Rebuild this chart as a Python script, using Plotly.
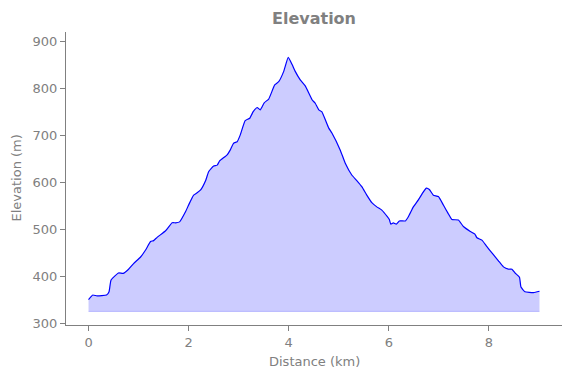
import plotly.graph_objects as go

distance_km = [0.0, 0.086, 0.17, 0.36, 0.41, 0.45, 0.60, 0.69, 0.80, 0.90, 1.04, 1.14, 1.24, 1.30, 1.37,
               1.54, 1.67, 1.74, 1.82, 1.94, 2.00, 2.10, 2.17, 2.24, 2.34, 2.40, 2.50, 2.57, 2.62, 2.77,
               2.83, 2.90, 2.97, 3.03, 3.13, 3.22, 3.29, 3.37, 3.43, 3.51, 3.60, 3.72, 3.80, 3.90, 3.99,
               4.07, 4.13, 4.23, 4.33, 4.47, 4.53, 4.60, 4.66, 4.80, 4.86, 5.03, 5.13, 5.26, 5.36, 5.46,
               5.56, 5.66, 5.76, 5.86, 5.97, 6.01, 6.04, 6.09, 6.15, 6.21, 6.33, 6.39, 6.49, 6.59, 6.69,
               6.75, 6.81, 6.89, 6.99, 7.09, 7.19, 7.26, 7.39, 7.49, 7.62, 7.72, 7.76, 7.86, 7.96, 8.06,
               8.19, 8.29, 8.39, 8.46, 8.52, 8.61, 8.64, 8.72, 8.89, 9.01]
elevation_m = [350, 360, 358, 360, 367, 392, 407, 406, 415, 427, 441, 456, 474, 476, 483,
               497, 514, 514, 516, 538, 552, 573, 578, 584, 604, 623, 635, 637, 646, 659,
               669, 684, 687, 701, 732, 737, 751, 760, 755, 770, 778, 808, 815, 837, 867,
               851, 837, 819, 806, 776, 769, 755, 751, 716, 706, 669, 641, 616, 604, 591,
               573, 557, 548, 541, 527, 521, 511, 514, 511, 518, 518, 527, 548, 563, 580,
               588, 585, 573, 570, 552, 533, 521, 520, 506, 496, 490, 482, 477, 463, 450,
               433, 420, 415, 415, 407, 398, 377, 367, 365, 368]
fill_base_m = 325

x_tick_vals = [0, 2, 4, 6, 8]
y_tick_vals = [300, 400, 500, 600, 700, 800, 900]

grey = "#808080"
fig = go.Figure()
fig.add_trace(go.Scatter(
    x=distance_km, y=[fill_base_m] * len(distance_km), mode="lines",
    line=dict(color="rgba(0,0,255,0.2)", width=1), hoverinfo="skip", showlegend=False))
fig.add_trace(go.Scatter(
    x=distance_km, y=elevation_m, mode="lines", fill="tonexty",
    fillcolor="rgba(0,0,255,0.2)", line=dict(color="blue", width=1.2, shape="spline", smoothing=0.4),
    showlegend=False))

axis_common = dict(showgrid=False, zeroline=False, showline=True, linecolor=grey, linewidth=1,
                   ticks="outside", ticklen=5, tickcolor=grey, tickfont=dict(color=grey, size=13),
                   mirror=False, automargin=False)
fig.update_layout(
    width=563, height=370,
    margin=dict(l=58, r=9, t=24, b=53),
    paper_bgcolor="white", plot_bgcolor="white",
    font=dict(family="DejaVu Sans", color=grey),
    title=dict(text="<b>Elevation</b>", x=0.5, xref="paper", xanchor="center", y=1 - 10 / 370,
               yref="container", yanchor="middle", font=dict(size=16, color=grey), automargin=False),
    xaxis=dict(range=[-0.45, 9.46], tickvals=x_tick_vals, **axis_common),
    yaxis=dict(range=[296, 921], tickvals=y_tick_vals, **axis_common),
    annotations=[
        dict(text="Distance (km)", xref="paper", yref="paper", x=0.5, y=0, xanchor="center",
             yanchor="middle", yshift=-36, showarrow=False, font=dict(size=13, color=grey)),
        dict(text="Elevation (m)", xref="paper", yref="paper", x=0, y=0.5, xanchor="center",
             yanchor="middle", xshift=-50, textangle=-90, showarrow=False, font=dict(size=13, color=grey)),
    ],
)
fig.write_html("out.html")
